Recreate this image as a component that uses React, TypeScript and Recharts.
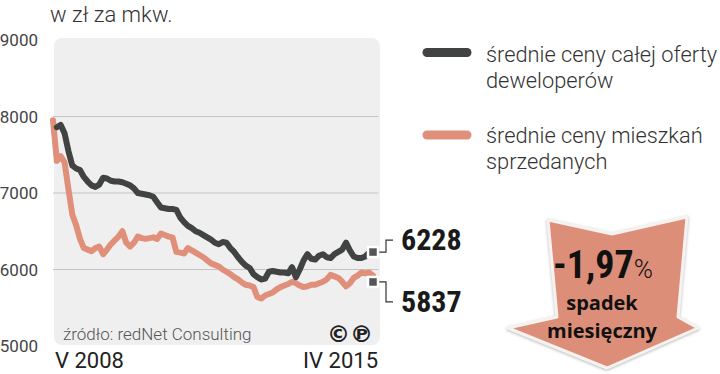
import React from 'react';
import { LineChart, Line, XAxis, YAxis, ReferenceArea, ReferenceLine, ReferenceDot } from 'recharts';

const TITLE = 'w zł za mkw.';
const SOURCE = 'źródło: redNet Consulting';
const X_LABELS = ['V 2008', 'IV 2015'];
const Y_TICKS = [5000, 6000, 7000, 8000, 9000];
const GRID_LINES = [6000, 7000, 8000];
const SERIES_NAMES = ['średnie ceny całej oferty', 'deweloperów', 'średnie ceny mieszkań', 'sprzedanych'];

// monthly, May 2008 .. April 2015
const OFFER = [
  null, 7860, 7890, 7780, 7550, 7360, 7320, 7300, 7210, 7150,
  7100, 7080, 7110, 7200, 7190, 7160, 7150, 7150, 7140, 7120,
  7100, 7060, 7000, 6990, 6980, 6970, 6950, 6880, 6810, 6800,
  6790, 6790, 6780, 6680, 6620, 6570, 6540, 6500, 6480, 6450,
  6420, 6390, 6350, 6330, 6360, 6350, 6280, 6230, 6160, 6100,
  6050, 6020, 5940, 5900, 5870, 5880, 5970, 5980, 5970, 5960,
  5960, 5950, 6030, 5900, 6000, 6120, 6200, 6140, 6130, 6180,
  6200, 6160, 6150, 6200, 6230, 6260, 6350, 6250, 6170, 6150,
  6150, 6170, 6220, 6228,
];
const SOLD = [
  7950, 7420, 7480, 7400, 7050, 6720, 6580, 6400, 6280, 6260,
  6240, 6280, 6300, 6200, 6260, 6330, 6380, 6430, 6500, 6350,
  6300, 6350, 6430, 6410, 6400, 6410, 6420, 6400, 6470, 6450,
  6430, 6420, 6230, 6220, 6210, 6280, 6250, 6220, 6190, 6160,
  6120, 6080, 6060, 6040, 6000, 5970, 5940, 5900, 5870, 5830,
  5800, 5790, 5770, 5640, 5620, 5660, 5680, 5700, 5740, 5770,
  5790, 5810, 5840, 5820, 5790, 5770, 5780, 5800, 5800, 5820,
  5840, 5870, 5930, 5910, 5890, 5840, 5780, 5820, 5890, 5920,
  5960, 5950, 5960, 5920,
];
const LAST_OFFER = 6228;
const LAST_SOLD = 5837;
const CHANGE = '-1,97';
const CHANGE_TEXT = ['spadek', 'miesięczny'];

const MONTHS = SOLD.map((_, i) => i);
const data = MONTHS.map((i) => ({ i, offer: OFFER[i], sold: SOLD[i] }));

const DARK = '#414342';
const SALMON = '#e0907a';
const LIGHT_FONT = 'Roboto, "Open Sans", sans-serif';
const NARROW = '"Liberation Sans Narrow", "Roboto Condensed", sans-serif';

const XTick = (props: any) => {
  const { x, y, index } = props;
  const first = index === 0;
  return (
    <text x={first ? x + 2 : x + 5} y={y + 14} textAnchor={first ? 'start' : 'end'}
      fontFamily={LIGHT_FONT} fontSize={22} fill="#222">
      {first ? X_LABELS[0] : X_LABELS[1]}
    </text>
  );
};

const EndMarker = (label: string, up: boolean) => (props: any) => {
  const { cx, cy } = props;
  const dy = up ? -12 : 20;
  return (
    <g>
      <polyline points={`${cx + 5},${cy} ${cx + 13},${cy} ${cx + 13},${cy + dy} ${cx + 20},${cy + dy}`}
        fill="none" stroke="#333" strokeWidth={1.2} />
      <rect x={cx - 5} y={cy - 5} width={10} height={10} fill="#555" stroke="#fff" strokeWidth={2.5} />
      <text x={cx + 28} y={cy + dy + 10} fontFamily={NARROW} fontWeight="bold" fontSize={30} fill="#1a1a1a">
        {label}
      </text>
    </g>
  );
};

export default function App() {
  return (
    <div style={{ position: 'absolute', left: 0, top: 0, width: 720, height: 374, background: '#fff' }}>
      <LineChart width={720} height={374} data={data} margin={{ top: 40, right: 347, bottom: 0, left: 0 }}>
        <ReferenceArea x1={0.26} x2={84.8} y1={5013} y2={9026} fill="#efefef" fillOpacity={1}
          stroke="none" radius={8} ifOverflow="visible" />
        {GRID_LINES.map((g) => (
          <ReferenceLine key={g} segment={[{ x: 0, y: g }, { x: 84.4, y: g }]} stroke="#c4c4c4"
            strokeWidth={1} ifOverflow="visible" />
        ))}
        <XAxis type="number" dataKey="i" domain={[0, 83]} ticks={[0, 83]} height={28}
          axisLine={false} tickLine={false} tick={<XTick />} interval={0} />
        <YAxis type="number" domain={[5000, 9000]} ticks={Y_TICKS} width={53} axisLine={false}
          tickLine={false} tickMargin={9} interval={0}
          tick={{ fontSize: 17, fill: '#444', fontFamily: LIGHT_FONT }} />
        <Line type="linear" dataKey="sold" stroke={SALMON} strokeWidth={6} dot={false}
          strokeLinejoin="round" strokeLinecap="round" isAnimationActive={false} />
        <Line type="linear" dataKey="offer" stroke={DARK} strokeWidth={6} dot={false}
          strokeLinejoin="round" strokeLinecap="round" isAnimationActive={false} />
        <ReferenceDot x={83} y={LAST_OFFER} r={5} ifOverflow="visible"
          shape={EndMarker(String(LAST_OFFER), true)} />
        <ReferenceDot x={83} y={LAST_SOLD} r={5} ifOverflow="visible"
          shape={EndMarker(String(LAST_SOLD), false)} />
      </LineChart>
      <svg width={720} height={374} style={{ position: 'absolute', left: 0, top: 0, pointerEvents: 'none' }}>
        <text x={50} y={22} fontFamily={LIGHT_FONT} fontWeight={300} fontSize={22} fill="#333">{TITLE}</text>
        <text x={63} y={340} fontFamily={LIGHT_FONT} fontWeight={300} fontSize={17} fill="#555">{SOURCE}</text>
        <text x={373} y={342} textAnchor="end" fontFamily="DejaVu Sans" fontWeight="bold" fontSize={23} fill="#222">©℗</text>
        <line x1={427} y1={52.5} x2={467} y2={52.5} stroke={DARK} strokeWidth={9} strokeLinecap="round" />
        <line x1={427} y1={135} x2={467} y2={135} stroke={SALMON} strokeWidth={9} strokeLinecap="round" />
        <g fontFamily={LIGHT_FONT} fontWeight={300} fontSize={21.8} fill="#333">
          <text x={486} y={62}>{SERIES_NAMES[0]}</text>
          <text x={486} y={88}>{SERIES_NAMES[1]}</text>
          <text x={486} y={143}>{SERIES_NAMES[2]}</text>
          <text x={486} y={169}>{SERIES_NAMES[3]}</text>
        </g>
        <defs>
          <filter id="sh" x="-20%" y="-20%" width="140%" height="140%">
            <feDropShadow dx="0" dy="1" stdDeviation="1.5" floodColor="#999" floodOpacity="0.7" />
          </filter>
        </defs>
        <polygon points="548,220 612,234 687,217 678,317 698,328 607,368 508,328 557,317"
          fill="#dc8e79" stroke="#f6f2ef" strokeWidth={3} strokeLinejoin="round" filter="url(#sh)" />
        <text x={603} y={278} textAnchor="middle" fill="#111">
          <tspan fontFamily={NARROW} fontWeight="bold" fontSize={38}>{CHANGE}</tspan>
          <tspan fontFamily={LIGHT_FONT} fontWeight={300} fontSize={26}>%</tspan>
        </text>
        <text x={602} y={310} textAnchor="middle" fontFamily='"Open Sans", sans-serif' fontWeight="bold" fontSize={20} fill="#111">{CHANGE_TEXT[0]}</text>
        <text x={602} y={338} textAnchor="middle" fontFamily='"Open Sans", sans-serif' fontWeight="bold" fontSize={20} fill="#111">{CHANGE_TEXT[1]}</text>
      </svg>
    </div>
  );
}
